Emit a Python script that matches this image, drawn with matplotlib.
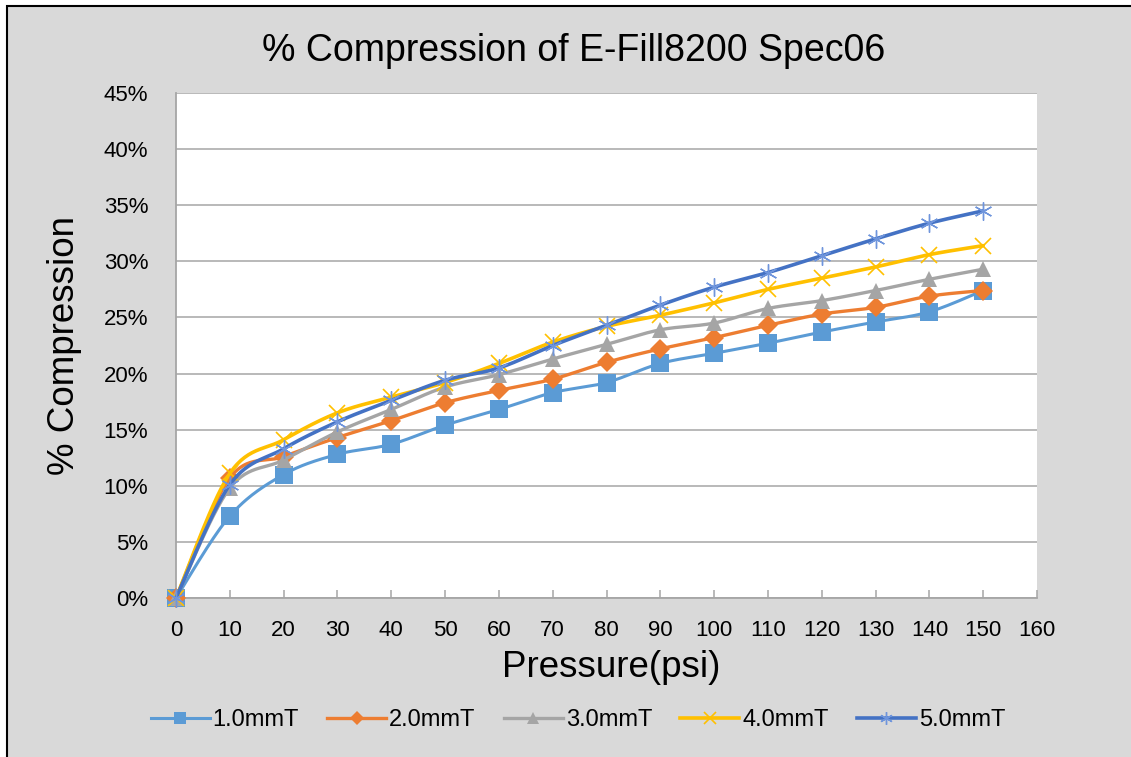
import numpy as np
import matplotlib
matplotlib.use("Agg")
import matplotlib.pyplot as plt
from matplotlib.patches import Rectangle
from matplotlib.ticker import PercentFormatter, MultipleLocator

plt.rcParams['font.family'] = ['Liberation Sans', 'DejaVu Sans']

# data (percent compression)
pressure = [0, 10, 20, 30, 40, 50, 60, 70, 80, 90, 100, 110, 120, 130, 140, 150]
comp_1mm = [0, 7.3, 11.0, 12.8, 13.7, 15.4, 16.8, 18.3, 19.2, 20.9, 21.8, 22.7, 23.7, 24.6, 25.5, 27.4]
comp_2mm = [0, 10.7, 12.6, 14.3, 15.8, 17.4, 18.5, 19.5, 21.0, 22.2, 23.2, 24.3, 25.3, 25.9, 26.9, 27.4]
comp_3mm = [0, 9.8, 12.3, 14.8, 16.8, 18.8, 19.9, 21.3, 22.6, 23.9, 24.5, 25.8, 26.5, 27.4, 28.4, 29.3]
comp_4mm = [0, 11.1, 14.1, 16.5, 17.9, 19.2, 20.9, 22.8, 24.2, 25.2, 26.3, 27.5, 28.5, 29.5, 30.6, 31.4]
comp_5mm = [0, 10.1, 13.3, 15.7, 17.6, 19.4, 20.5, 22.5, 24.3, 26.1, 27.7, 29.0, 30.5, 32.0, 33.4, 34.5]
series_names = ['1.0mmT', '2.0mmT', '3.0mmT', '4.0mmT', '5.0mmT']


def smooth(x, y, n=30):
    # Excel style smoothed line (Catmull-Rom bezier through the points)
    p = np.column_stack([x, y]).astype(float)
    pts = np.vstack([p[0], p, p[-1]])
    t = np.linspace(0, 1, n)[:, None]
    out = []
    for i in range(1, len(pts) - 2):
        p0, p1, p2, p3 = pts[i - 1], pts[i], pts[i + 1], pts[i + 2]
        c1 = p1 + (p2 - p0) / 6
        c2 = p2 - (p3 - p1) / 6
        seg = ((1 - t) ** 3) * p1 + 3 * ((1 - t) ** 2) * t * c1 + 3 * (1 - t) * t ** 2 * c2 + t ** 3 * p2
        out.append(seg if i == 1 else seg[1:])
    out = np.vstack(out)
    return out[:, 0], out[:, 1]


fig = plt.figure(figsize=(11.31, 7.57), dpi=100)
fig.patch.set_facecolor('white')
fig.patches.append(Rectangle((6.5 / 1131, -0.05), 1.1, 1.05 - 6.5 / 757, transform=fig.transFigure,
                             facecolor='#d9d9d9', edgecolor='black', linewidth=1.5, zorder=-10))

ax = fig.add_axes([176 / 1131, 1 - 598 / 757, (1037 - 176) / 1131, (598 - 93) / 757])
ax.set_facecolor('white')

styles = [
    dict(color='#5b9bd5', marker='s', ms=12.5, lw=2.2, mew=0),
    dict(color='#ed7d31', marker='D', ms=10.5, lw=2.4, mew=0),
    dict(color='#a5a5a5', marker='^', ms=11.5, lw=2.4, mew=0),
    dict(color='#ffc000', marker='x', ms=12, lw=2.6, mew=1.2),
    dict(color='#4472c4', marker=(6, 2, 0), ms=13, lw=2.6, mew=1.0, mec='#6f95dc'),
]
all_series = [comp_1mm, comp_2mm, comp_3mm, comp_4mm, comp_5mm]

for k, (vals, name, st) in enumerate(zip(all_series, series_names, styles)):
    y = np.array(vals) / 100
    sx, sy = smooth(pressure, y)
    ax.plot(sx, sy, color=st['color'], lw=st['lw'], zorder=3 + k, clip_on=False, solid_capstyle='round')
    ax.plot(pressure, y, linestyle='none', marker=st['marker'], ms=st['ms'], color=st['color'],
            mec=st.get('mec', st['color']), mew=st['mew'], zorder=3 + k, clip_on=False)
    # legend handle
    ax.plot([], [], color=st['color'], lw=st['lw'], marker=st['marker'], ms=st['ms'] * 0.7,
            mec=st.get('mec', st['color']), mew=st['mew'], label=name)

ax.set_xlim(0, 160)
ax.set_ylim(0, 0.45)
ax.xaxis.set_major_locator(MultipleLocator(10))
ax.yaxis.set_major_locator(MultipleLocator(0.05))
ax.yaxis.set_major_formatter(PercentFormatter(1.0, decimals=0))
ax.grid(axis='y', color='#a6a6a6', lw=1.1, zorder=0)
ax.set_axisbelow(True)

for s in ['top', 'right']:
    ax.spines[s].set_visible(False)
for s in ['left', 'bottom']:
    ax.spines[s].set_color('#a6a6a6')
    ax.spines[s].set_linewidth(1.3)

ax.tick_params(axis='x', direction='in', length=6, width=1.1, color='#a6a6a6', labelsize=16, pad=16)
ax.tick_params(axis='y', length=0, labelsize=16, pad=20)

ax.set_xlabel('Pressure(psi)', fontsize=26.5)
ax.xaxis.set_label_coords(0.505, -0.103)
ax.set_ylabel('% Compression', fontsize=26.5)
ax.yaxis.set_label_coords(-0.109, 0.5)

fig.text(574 / 1131, 1 - 61 / 757, '% Compression of E-Fill8200 Spec06', fontsize=27,
         ha='center', va='baseline')

fig.legend(loc='center', bbox_to_anchor=(0.511, 0.049), ncol=5, frameon=False, fontsize=17,
           handlelength=2.5, handletextpad=0.12, columnspacing=1.2)

fig.savefig('out.png', dpi=100, facecolor=fig.get_facecolor())
